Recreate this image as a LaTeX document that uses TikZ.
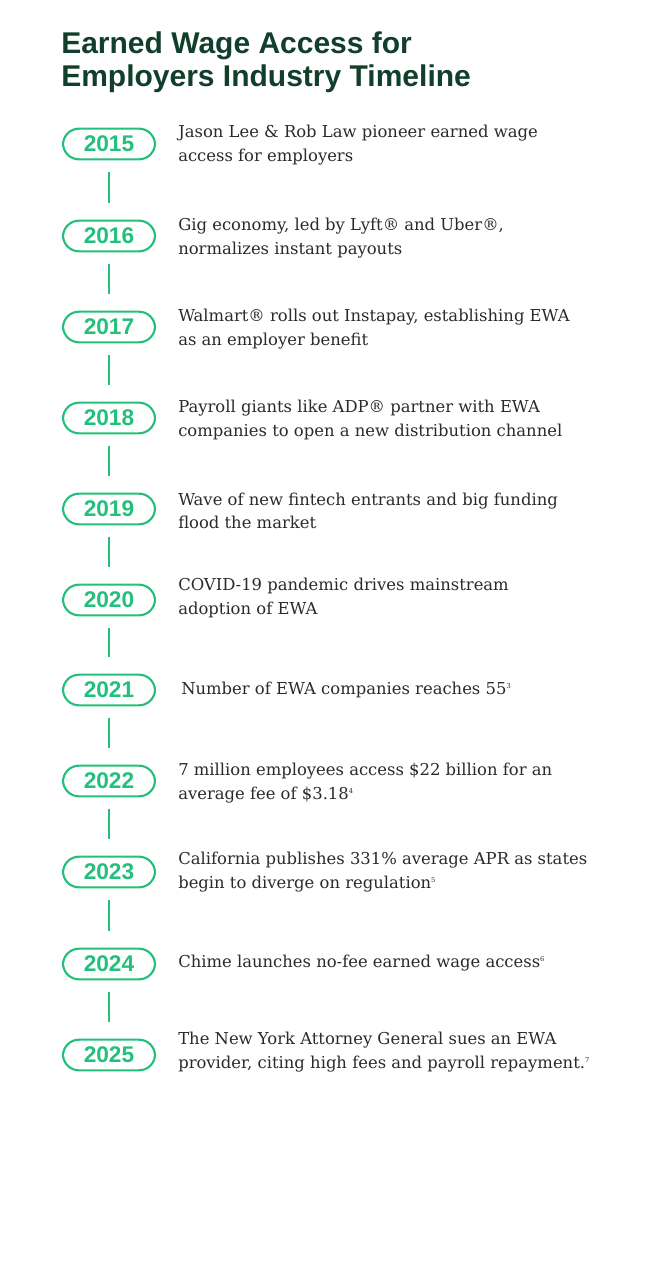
\documentclass[tikz,border=0pt]{standalone}
\usepackage{fontspec}
\setmainfont{DejaVu Serif}
\newfontfamily\titlefont{Liberation Sans}
\definecolor{dk}{HTML}{123F2B}
\definecolor{gr}{HTML}{22C07A}
\definecolor{tx}{HTML}{2A2A2A}
\newcommand{\sups}[1]{\textsuperscript{\tiny #1}}
\begin{document}
\begin{tikzpicture}[x=0.75pt,y=-0.75pt,
  pill/.style={draw=gr,line width=1.6pt,rounded corners=12pt,minimum width=69pt,minimum height=23pt,inner sep=0pt,text=gr,font=\titlefont\bfseries\fontsize{17}{19}\selectfont},
  desc/.style={anchor=west,align=left,text=tx,font=\fontsize{12.3}{17.5}\selectfont,inner sep=0pt},
  link/.style={draw=gr,line width=1.3pt}]
\useasboundingbox (0,0) rectangle (650,1262);
\node[anchor=north west,align=left,text=dk,inner sep=0pt,font=\titlefont\bfseries\fontsize{22.5}{25}\selectfont] (title) at (61,31) {Earned Wage Access for\\Employers Industry Timeline};
\foreach \yr/\y [count=\i] in {2015/144,2016/236,2017/327,2018/418,2019/509,2020/600,2021/690,2022/781,2023/872,2024/964,2025/1055}{
  \node[pill] (p\i) at (109,\y) {\yr};
}
\foreach \i [evaluate=\i as \j using int(\i+1)] in {1,...,10}{
  \coordinate (a\i) at ([yshift=-8.5pt]p\i.south);
  \coordinate (b\i) at ([yshift=12.5pt]p\j.north);
  \draw[link] (a\i) -- (b\i);
}
\node[desc] (d1) at (178,145) {Jason Lee \& Rob Law pioneer earned wage\\access for employers};
\node[desc] (d2) at (178,238) {Gig economy, led by Lyft® and Uber®,\\normalizes instant payouts};
\node[desc] (d3) at (178,329) {Walmart® rolls out Instapay, establishing EWA\\as an employer benefit};
\node[desc] (d4) at (178,420) {Payroll giants like ADP® partner with EWA\\companies to open a new distribution channel};
\node[desc] (d5) at (178,511) {Wave of new fintech entrants and big funding\\flood the market};
\node[desc] (d6) at (178,598) {COVID-19 pandemic drives mainstream\\adoption of EWA};
\node[desc] (d7) at (181,690) {Number of EWA companies reaches 55\sups{3}};
\node[desc] (d8) at (178,783) {7 million employees access \$22 billion for an\\average fee of \$3.18\sups{4}};
\node[desc] (d9) at (178,872) {California publishes 331\% average APR as states\\begin to diverge on regulation\sups{5}};
\node[desc] (d10) at (178,963) {Chime launches no-fee earned wage access\sups{6}};
\node[desc] (d11) at (178,1052) {The New York Attorney General sues an EWA\\provider, citing high fees and payroll repayment.\sups{7}};
\end{tikzpicture}
\end{document}
